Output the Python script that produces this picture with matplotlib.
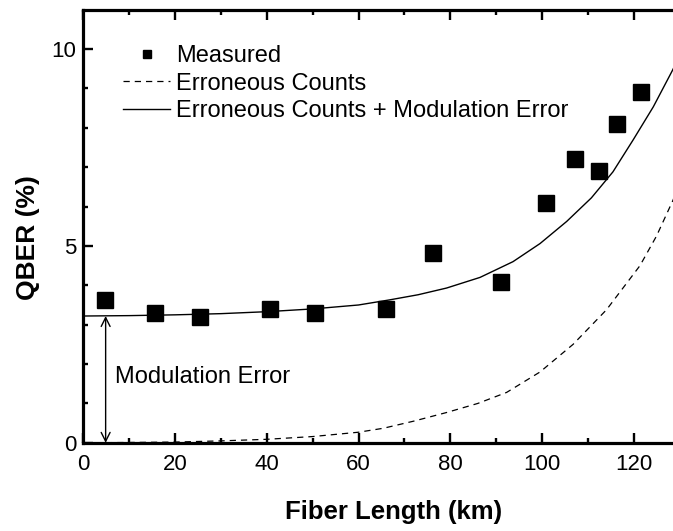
import numpy as np
import matplotlib.pyplot as plt

plt.rcParams['font.family'] = ['Liberation Sans', 'DejaVu Sans']

# measured QBER points
fiber_km = [4.7, 15.7, 25.4, 40.8, 50.6, 66.1, 76.2, 91.1, 100.9, 107.2, 112.5, 116.3, 121.6]
qber_meas = [3.62, 3.29, 3.20, 3.40, 3.30, 3.39, 4.81, 4.08, 6.10, 7.20, 6.90, 8.10, 8.91]

# erroneous counts curve (dashed)
err_km = [0, 10, 20, 30, 40, 50, 60, 65.4, 72, 79.2, 86, 92.3, 99.6, 106.8, 114.1, 121.4, 125, 128.6, 132]
err_qber = [0.0, 0.01, 0.02, 0.05, 0.09, 0.16, 0.27, 0.37, 0.55, 0.77, 1.0, 1.28, 1.80, 2.50, 3.38, 4.50, 5.25, 6.16, 7.2]

# erroneous counts + modulation error (solid)
tot_km = [0, 10, 20, 30, 40, 50, 60, 66.8, 73, 79.2, 86.5, 93.7, 99.6, 105.4, 110.8, 115.5, 119.9, 124.3, 128.5, 132]
tot_qber = [3.22, 3.23, 3.25, 3.28, 3.33, 3.40, 3.50, 3.63, 3.76, 3.93, 4.20, 4.60, 5.06, 5.62, 6.22, 6.88, 7.69, 8.53, 9.46, 10.3]

mod_err = 3.22
arrow_x = 4.84

fig = plt.figure(figsize=(6.73, 5.31), dpi=100)
ax = fig.add_axes([0.124, 0.166, 0.923, 0.816])

ax.plot(fiber_km, qber_meas, 's', color='black', markersize=11.5, label='Measured')
ax.plot(err_km, err_qber, '--', color='black', lw=0.9, dashes=(5, 4), label='Erroneous Counts')
ax.plot(tot_km, tot_qber, '-', color='black', lw=1.0, label='Erroneous Counts + Modulation Error')

ax.annotate('', xy=(arrow_x, 0), xytext=(arrow_x, mod_err),
            arrowprops=dict(arrowstyle='<->', color='black', lw=1.0,
                            mutation_scale=16, shrinkA=0, shrinkB=0))
ax.text(6.87, 1.68, 'Modulation Error', fontsize=17, va='center', ha='left')

ax.set_xlim(0, 135.5)
ax.set_ylim(0, 11)
ax.set_xticks([0, 20, 40, 60, 80, 100, 120])
ax.set_xticks(np.arange(0, 131, 10), minor=True)
ax.set_yticks([0, 5, 10])
ax.set_yticks(np.arange(0, 11, 1), minor=True)

ax.tick_params(which='both', direction='in', top=True, right=True, width=1.7, labelsize=16)
ax.tick_params(which='major', length=7.2)
ax.tick_params(which='minor', length=3.6)
ax.tick_params(axis='x', which='major', pad=8)
ax.tick_params(axis='y', which='major', pad=5)
for sp in ax.spines.values():
    sp.set_linewidth(2.3)

ax.set_xlabel('Fiber Length (km)', fontsize=18.5, fontweight='bold', labelpad=18)
ax.set_ylabel('QBER (%)', fontsize=19, fontweight='bold')
ax.yaxis.set_label_coords(-0.070, 0.474)

ax.legend(loc='upper left', bbox_to_anchor=(0.0636, 0.918), frameon=False, fontsize=17,
          markerscale=0.46, handlelength=2.0, handletextpad=0.25, labelspacing=0.24,
          borderpad=0, borderaxespad=0)

fig.savefig('out.png', dpi=100)
